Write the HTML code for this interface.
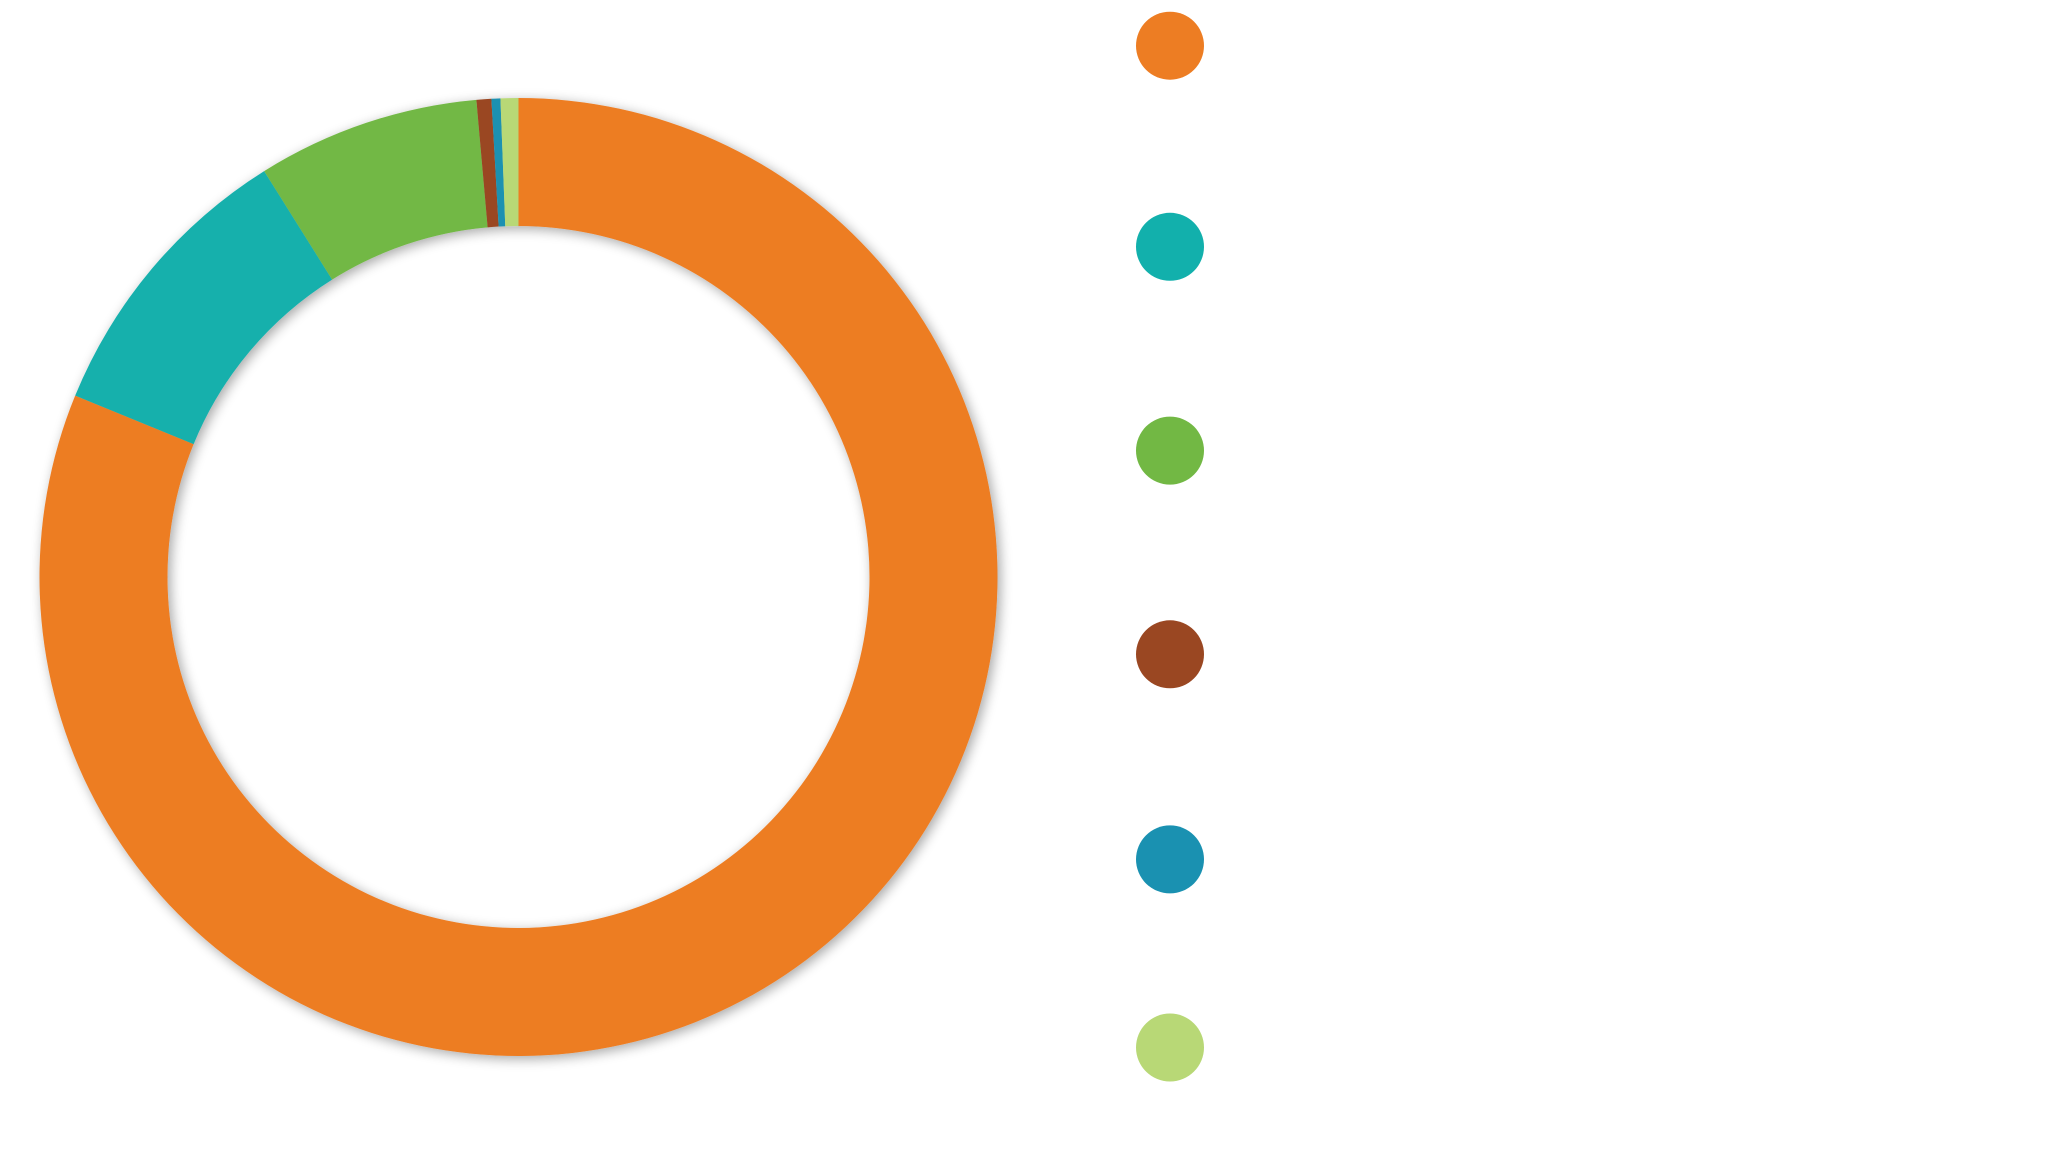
<!DOCTYPE html>
<html><head><meta charset="utf-8"><style>
html,body{margin:0;padding:0;background:#fff;width:2048px;height:1154px;overflow:hidden}
svg{display:block}
</style></head><body>
<svg id="chart" width="2048" height="1154" viewBox="0 0 2048 1154" xmlns="http://www.w3.org/2000/svg">
<defs>
<filter id="sh" x="-20%" y="-20%" width="140%" height="140%">
<feGaussianBlur in="SourceAlpha" stdDeviation="6"/>
<feOffset dx="3" dy="3" result="b"/>
<feComponentTransfer><feFuncA type="linear" slope="0.35"/></feComponentTransfer>
<feMerge><feMergeNode/><feMergeNode in="SourceGraphic"/></feMerge>
</filter>
</defs>
<g id="slices" filter="url(#sh)"></g>
<g id="legend"></g>
</svg>
<script>
const categories = ["A","B","C","D","E","F"];
const values = [81.1, 9.9, 7.5, 0.5, 0.3, 0.6];
const colors = ["#ED7D23","#12B0AC","#72B844","#9A4722","#1A91B1","#B8D876"];
const legendY = [45.7, 246.8, 450.6, 654.3, 859.4, 1047.5];

const NS = "http://www.w3.org/2000/svg";
const cx = 518.5, cy = 577, R = 479, r = 351;
const total = values.reduce((a,b)=>a+b,0);
function pt(a, rad){ return [cx + rad*Math.sin(a), cy - rad*Math.cos(a)]; }
const g = document.getElementById('slices');
let acc = 0;
values.forEach((v,i)=>{
  const a0 = acc/total*2*Math.PI; acc += v;
  const a1 = acc/total*2*Math.PI;
  const large = (a1-a0) > Math.PI ? 1 : 0;
  const [x0,y0]=pt(a0,R),[x1,y1]=pt(a1,R),[x2,y2]=pt(a1,r),[x3,y3]=pt(a0,r);
  const p = document.createElementNS(NS,'path');
  p.setAttribute('d',`M${x0},${y0}A${R},${R} 0 ${large} 1 ${x1},${y1}L${x2},${y2}A${r},${r} 0 ${large} 0 ${x3},${y3}Z`);
  p.setAttribute('fill',colors[i]);
  
  
  g.appendChild(p);
});
const lg = document.getElementById('legend');
categories.forEach((c,i)=>{
  const e = document.createElementNS(NS,'circle');
  e.setAttribute('cx',1170);
  e.setAttribute('cy',legendY[i]);
  e.setAttribute('r',34);
  e.setAttribute('fill',colors[i]);
  
  
  lg.appendChild(e);
});
</script>
</body></html>
